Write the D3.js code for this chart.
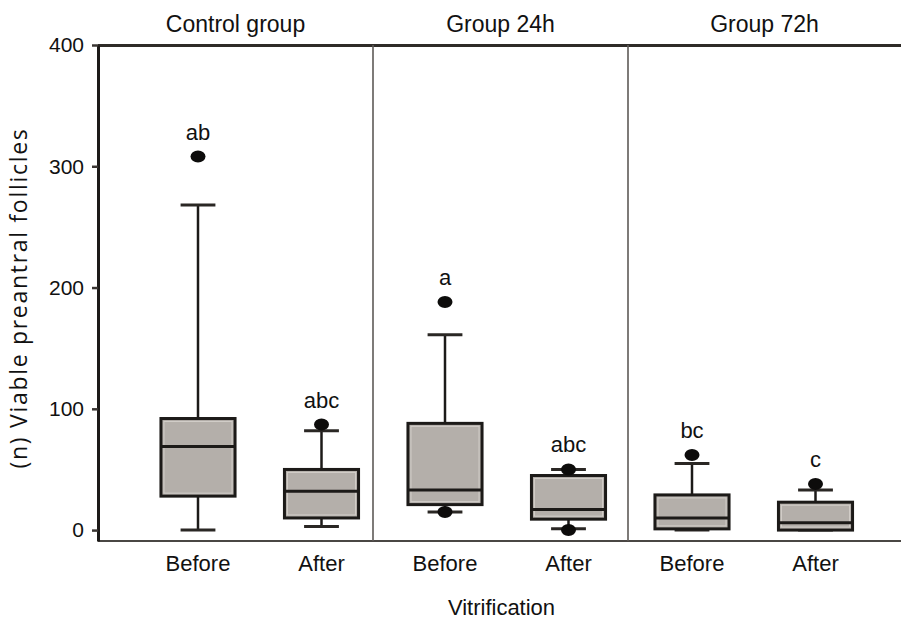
<!DOCTYPE html>
<html>
<head>
<meta charset="utf-8">
<script src="https://cdn.jsdelivr.net/npm/d3@7"></script>
<style>
  body { margin: 0; background: #fff; }
  svg { display: block; }
</style>
</head>
<body>
<svg id="chart" width="901" height="619"></svg>
<script>
const groups = ['Control group', 'Group 24h', 'Group 72h']
const phases = ['Before', 'After']

// one entry per box: Control Before, Control After, 24h Before, 24h After, 72h Before, 72h After
const whiskerLow = [0, 3, 15, 1, 0, 0]
const q1 = [28, 10, 21, 9, 1, 0]
const median = [69, 32, 33, 17, 10, 6]
const q3 = [92, 50, 88, 45, 29, 23]
const whiskerHigh = [268, 82, 161, 50, 55, 33]
const outliers = [[308], [87], [188, 15], [50, 0], [62], [38]]
const letters = ['ab', 'abc', 'a', 'abc', 'bc', 'c']

const yTicks = [0, 100, 200, 300, 400]

const width = 901
const height = 619
const margin = { top: 45, right: 0, bottom: 78, left: 98 }
const boxFill = '#b4afaa'
const ink = '#1c1a18'

const boxes = []
groups.forEach((g, gi) => {
  phases.forEach((p, pi) => {
    const i = gi * 2 + pi
    boxes.push({
      key: g + '|' + p, group: g, phase: p,
      low: whiskerLow[i], q1: q1[i], median: median[i], q3: q3[i], high: whiskerHigh[i],
      outliers: outliers[i], letter: letters[i]
    })
  })
})

const svg = d3.select('#chart')

const x = d3.scaleBand()
  .domain(boxes.map((d) => d.key))
  .range([136.25, 877.25])
  .paddingInner(0.4)
  .paddingOuter(0.2)

const groupX = d3.scaleBand().domain(groups).range([118, 883])

const y = d3.scaleLinear()
  .domain([-9, 400])
  .range([height - margin.bottom, margin.top])

const bw = x.bandwidth()
const cap = bw * 0.47
const cx = (d) => x(d.key) + bw / 2

// frame
const x0 = margin.left
const x1 = width - margin.right
const yTop = y(400)
const yBot = y(-9)

svg.append('line')
  .attr('x1', x0).attr('x2', x1).attr('y1', yTop + 0.5).attr('y2', yTop + 0.5)
  .attr('stroke', '#2e2b28').attr('stroke-width', 3)

svg.append('line')
  .attr('x1', x0).attr('x2', x1).attr('y1', yBot).attr('y2', yBot)
  .attr('stroke', '#4a4744').attr('stroke-width', 2)

svg.selectAll('.divider')
  .data(groups.slice(1))
  .enter()
  .append('line')
  .attr('class', 'divider')
  .attr('x1', (g) => groupX(g)).attr('x2', (g) => groupX(g))
  .attr('y1', yTop).attr('y2', yBot)
  .attr('stroke', '#5e5a57').attr('stroke-width', 1.6)

// panel titles
svg.selectAll('.panel-title')
  .data(groups)
  .enter()
  .append('text')
  .attr('class', 'panel-title')
  .attr('x', (g, i) => {
    const left = i === 0 ? x0 : groupX(g)
    const right = i === groups.length - 1 ? x1 : groupX(g) + groupX.bandwidth()
    return (left + right) / 2
  })
  .attr('y', 32)
  .attr('text-anchor', 'middle')
  .style('font', '23px "Liberation Sans", Arial, sans-serif')
  .style('fill', '#111')
  .text((g) => g)

// y axis
const yAxis = svg.append('g')
  .attr('transform', `translate(${x0}, 0)`)
  .call(d3.axisLeft(y).tickValues(yTicks).tickSize(6).tickSizeOuter(0).tickPadding(8))

yAxis.select('.domain').attr('stroke', ink).attr('stroke-width', 3)
yAxis.selectAll('.tick line').attr('stroke', '#3a3633').attr('stroke-width', 2.5)
yAxis.selectAll('.tick text')
  .style('font', '21px "Liberation Sans", Arial, sans-serif')
  .style('fill', '#111')

svg.append('text')
  .attr('transform', `translate(27, 298) rotate(-90)`)
  .attr('text-anchor', 'middle')
  .style('font', '23px "Open Sans", sans-serif')
  .style('letter-spacing', '1.7px')
  .style('fill', '#111')
  .text('(n) Viable preantral follicles')

// x labels
svg.selectAll('.phase-label')
  .data(boxes)
  .enter()
  .append('text')
  .attr('class', 'phase-label')
  .attr('x', cx)
  .attr('y', 571)
  .attr('text-anchor', 'middle')
  .style('font', '22px "Liberation Sans", Arial, sans-serif')
  .style('fill', '#111')
  .text((d) => d.phase)

svg.append('text')
  .attr('x', (x0 + x1) / 2 + 2)
  .attr('y', 615)
  .attr('text-anchor', 'middle')
  .style('font', '22px "Liberation Sans", Arial, sans-serif')
  .style('fill', '#111')
  .text('Vitrification')

// boxes
const box = svg.selectAll('.box')
  .data(boxes)
  .enter()
  .append('g')
  .attr('class', 'box')

box.append('line')
  .attr('x1', cx).attr('x2', cx)
  .attr('y1', (d) => y(d.high)).attr('y2', (d) => y(d.q3))
  .attr('stroke', ink).attr('stroke-width', 2.5)

box.append('line')
  .attr('x1', cx).attr('x2', cx)
  .attr('y1', (d) => y(d.q1)).attr('y2', (d) => y(d.low))
  .attr('stroke', ink).attr('stroke-width', 2.5)

box.append('line')
  .attr('x1', (d) => cx(d) - cap / 2).attr('x2', (d) => cx(d) + cap / 2)
  .attr('y1', (d) => y(d.high)).attr('y2', (d) => y(d.high))
  .attr('stroke', '#2a2724').attr('stroke-width', 3)

box.append('line')
  .attr('x1', (d) => cx(d) - cap / 2).attr('x2', (d) => cx(d) + cap / 2)
  .attr('y1', (d) => y(d.low)).attr('y2', (d) => y(d.low))
  .attr('stroke', '#2a2724').attr('stroke-width', 3)

box.append('rect')
  .attr('x', (d) => x(d.key))
  .attr('width', bw)
  .attr('y', (d) => y(d.q3))
  .attr('height', (d) => y(d.q1) - y(d.q3))
  .attr('fill', boxFill)
  .attr('stroke', ink)
  .attr('stroke-width', 3)

box.append('rect')
  .attr('x', (d) => x(d.key) + 3)
  .attr('width', bw - 6)
  .attr('y', (d) => y(d.q3) + 3)
  .attr('height', (d) => Math.max(0, y(d.q1) - y(d.q3) - 6))
  .attr('fill', 'none')
  .attr('stroke', '#d2cec9')
  .attr('stroke-width', 1)

box.append('line')
  .attr('x1', (d) => x(d.key)).attr('x2', (d) => x(d.key) + bw)
  .attr('y1', (d) => y(d.median)).attr('y2', (d) => y(d.median))
  .attr('stroke', ink).attr('stroke-width', 3)

box.selectAll('.outlier')
  .data((d) => d.outliers.map((v) => ({ v, c: cx(d) })))
  .enter()
  .append('ellipse')
  .attr('class', 'outlier')
  .attr('cx', (o) => o.c)
  .attr('cy', (o) => y(o.v))
  .attr('rx', 7.5)
  .attr('ry', 6)
  .attr('fill', '#0d0c0b')

box.append('text')
  .attr('x', cx)
  .attr('y', (d) => y(d3.max([d.high, ...d.outliers])) - 17)
  .attr('text-anchor', 'middle')
  .style('font', '22px "Liberation Sans", Arial, sans-serif')
  .style('fill', '#111')
  .text((d) => d.letter)
</script>
</body>
</html>
